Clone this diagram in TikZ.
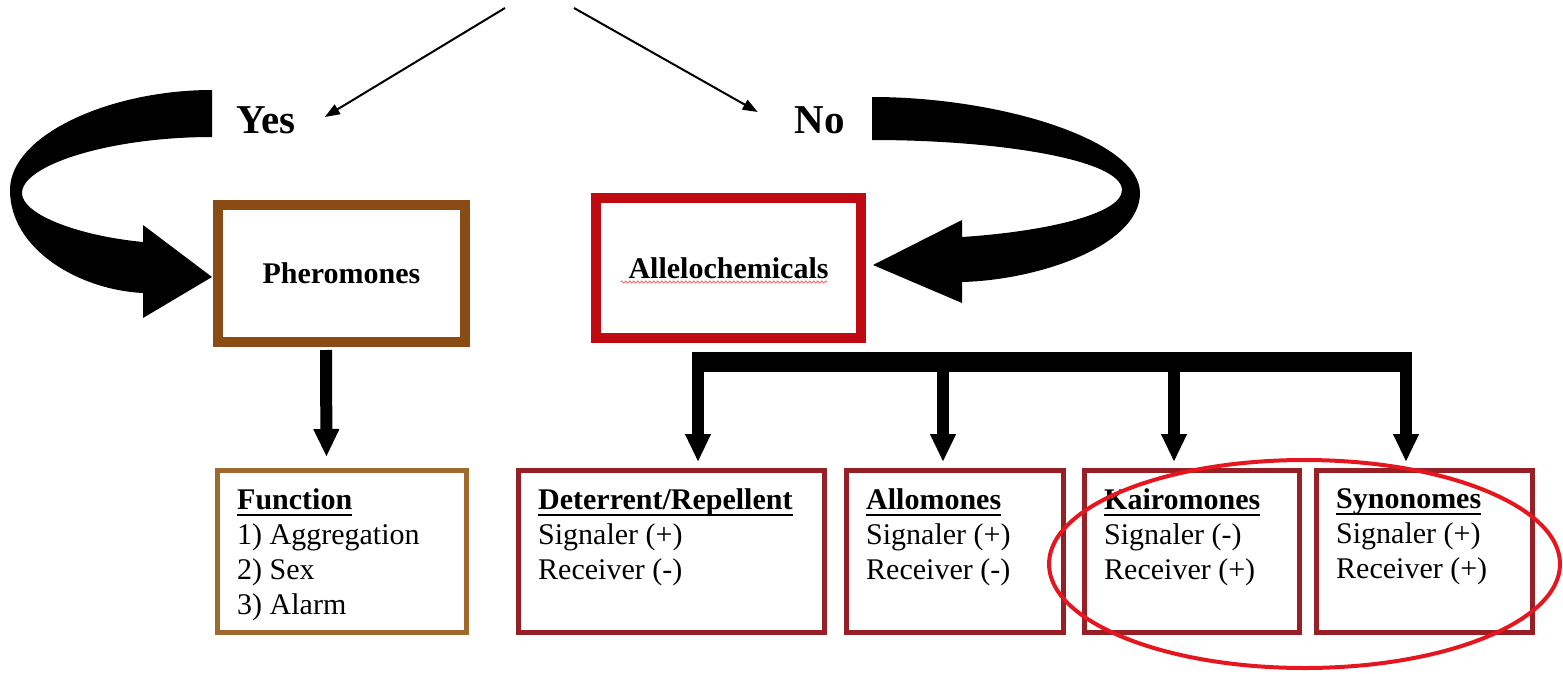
\documentclass[tikz,border=0pt]{standalone}
\usepackage{fontspec}
\setmainfont{Liberation Serif}
\usetikzlibrary{arrows.meta,calc,decorations.pathmorphing}
\definecolor{PherBrown}{HTML}{8A4B14}
\definecolor{FuncBrown}{HTML}{A0692E}
\definecolor{AlleRed}{HTML}{C00A12}
\definecolor{BoxRed}{HTML}{962025}
\definecolor{RingRed}{HTML}{E6161E}
\newcommand{\ulhead}[1]{\setbox0=\hbox{\bfseries #1}\leavevmode\rlap{\rule[-7pt]{\wd0}{2.2pt}}\box0}

\begin{document}
\begin{tikzpicture}[x=1pt,y=-1pt,
    bigbox/.style={draw,line width=10pt,inner sep=0pt,font=\fontsize{30}{36}\selectfont\bfseries},
    subbox/.style={draw=BoxRed,line width=5pt,inner sep=0pt,minimum height=162pt},
    boxtext/.style={anchor=north west,align=left,inner sep=0pt,font=\fontsize{30}{35}\selectfont},
    answer/.style={inner sep=0pt,font=\fontsize{41}{48}\selectfont\bfseries},
    thinarrow/.style={line width=2pt,-{Triangle[length=15pt,width=11pt]}},
    stemarrow/.style={line width=12pt,-{Triangle[length=28pt,width=24pt]}}]
        \useasboundingbox (0,0) rectangle (1563,674);
        \coordinate (qL) at (505,8);
        \coordinate (qR) at (574,8);
        \node[answer] (yes) at (266,120) {Yes};
        \node[answer] (no) at (820,120) {No};
        \draw[thinarrow] (qL) -- ($(yes.east)+(29,-3)$);
        \draw[thinarrow] (qR) -- ($(no.west)+(-37,-8)$);
        \fill (212,90) .. controls (110,90) and (10,135) .. (10,190)
          .. controls (10,250) and (80,290) .. (143,293)
          -- (143,318) -- (212,277) -- (143,225) -- (143,242)
          .. controls (80,236) and (22,215) .. (22,193)
          .. controls (22,165) and (110,137) .. (212,137) -- cycle;
        \fill (872,97) .. controls (1000,97) and (1140,140) .. (1140,193)
          .. controls (1140,245) and (1040,280) .. (962,282)
          -- (962,303) -- (873,265) -- (962,220) -- (962,237)
          .. controls (1040,232) and (1122,215) .. (1122,190)
          .. controls (1122,160) and (1000,140) .. (872,140) -- cycle;
        \node[bigbox,draw=PherBrown,minimum width=247pt,minimum height=137pt] (pher) at (341.5,273.5) {Pheromones};
        \node[bigbox,draw=AlleRed,minimum width=265pt,minimum height=140pt] (alle) at (728.5,268) {Allelochemicals};
        \draw[decorate,decoration={snake,amplitude=1pt,segment length=4pt},red!60,line width=0.8pt]
          ($(alle.center)+(-108,14)$) -- ($(alle.center)+(99,14)$);
        \node[subbox,draw=FuncBrown,minimum width=249pt] (func) at (342,551.5) {};
        \node[boxtext] (funcT) at ([xshift=22pt,yshift=-20pt]func.north west)
          {\ulhead{Function}\\1) Aggregation\\2) Sex\\3) Alarm};
        \draw[stemarrow,shorten <=3pt,shorten >=11pt] ([xshift=-15.5pt]pher.south) -- ([xshift=-15.5pt]func.north);
        \foreach \nm/\cx/\w/\head/\sg/\rc in {
          det/671.5/306/Deterrent\slash Repellent/+/-,allo/955/217/Allomones/+/-,
          kair/1192/215/Kairomones/-/+,syn/1424.5/216/Synonomes/+/+}
          {
            \node[subbox,minimum width=\w pt] (\nm) at (\cx,551.5) {};
            \node[boxtext] (\nm T) at ([xshift=22pt,yshift=-20pt]\nm.north west)
              {\ulhead{\head}\\Signaler (\sg)\\Receiver (\rc)};
          }
        \draw[line width=20pt] (692,362) coordinate (barL) -- (1412,362) coordinate (barR);
        \foreach \sx/\nm in {698/det,943/allo,1174/kair,1406/syn}
          {
            \coordinate (b\nm) at (\sx,362);
            \draw[stemarrow,shorten >=6pt] (b\nm) -- (b\nm |- \nm.north);
          }
        \draw[RingRed,line width=4pt] (1304.5,564) ellipse (255.5pt and 104pt);
      \end{tikzpicture}
\end{document}
